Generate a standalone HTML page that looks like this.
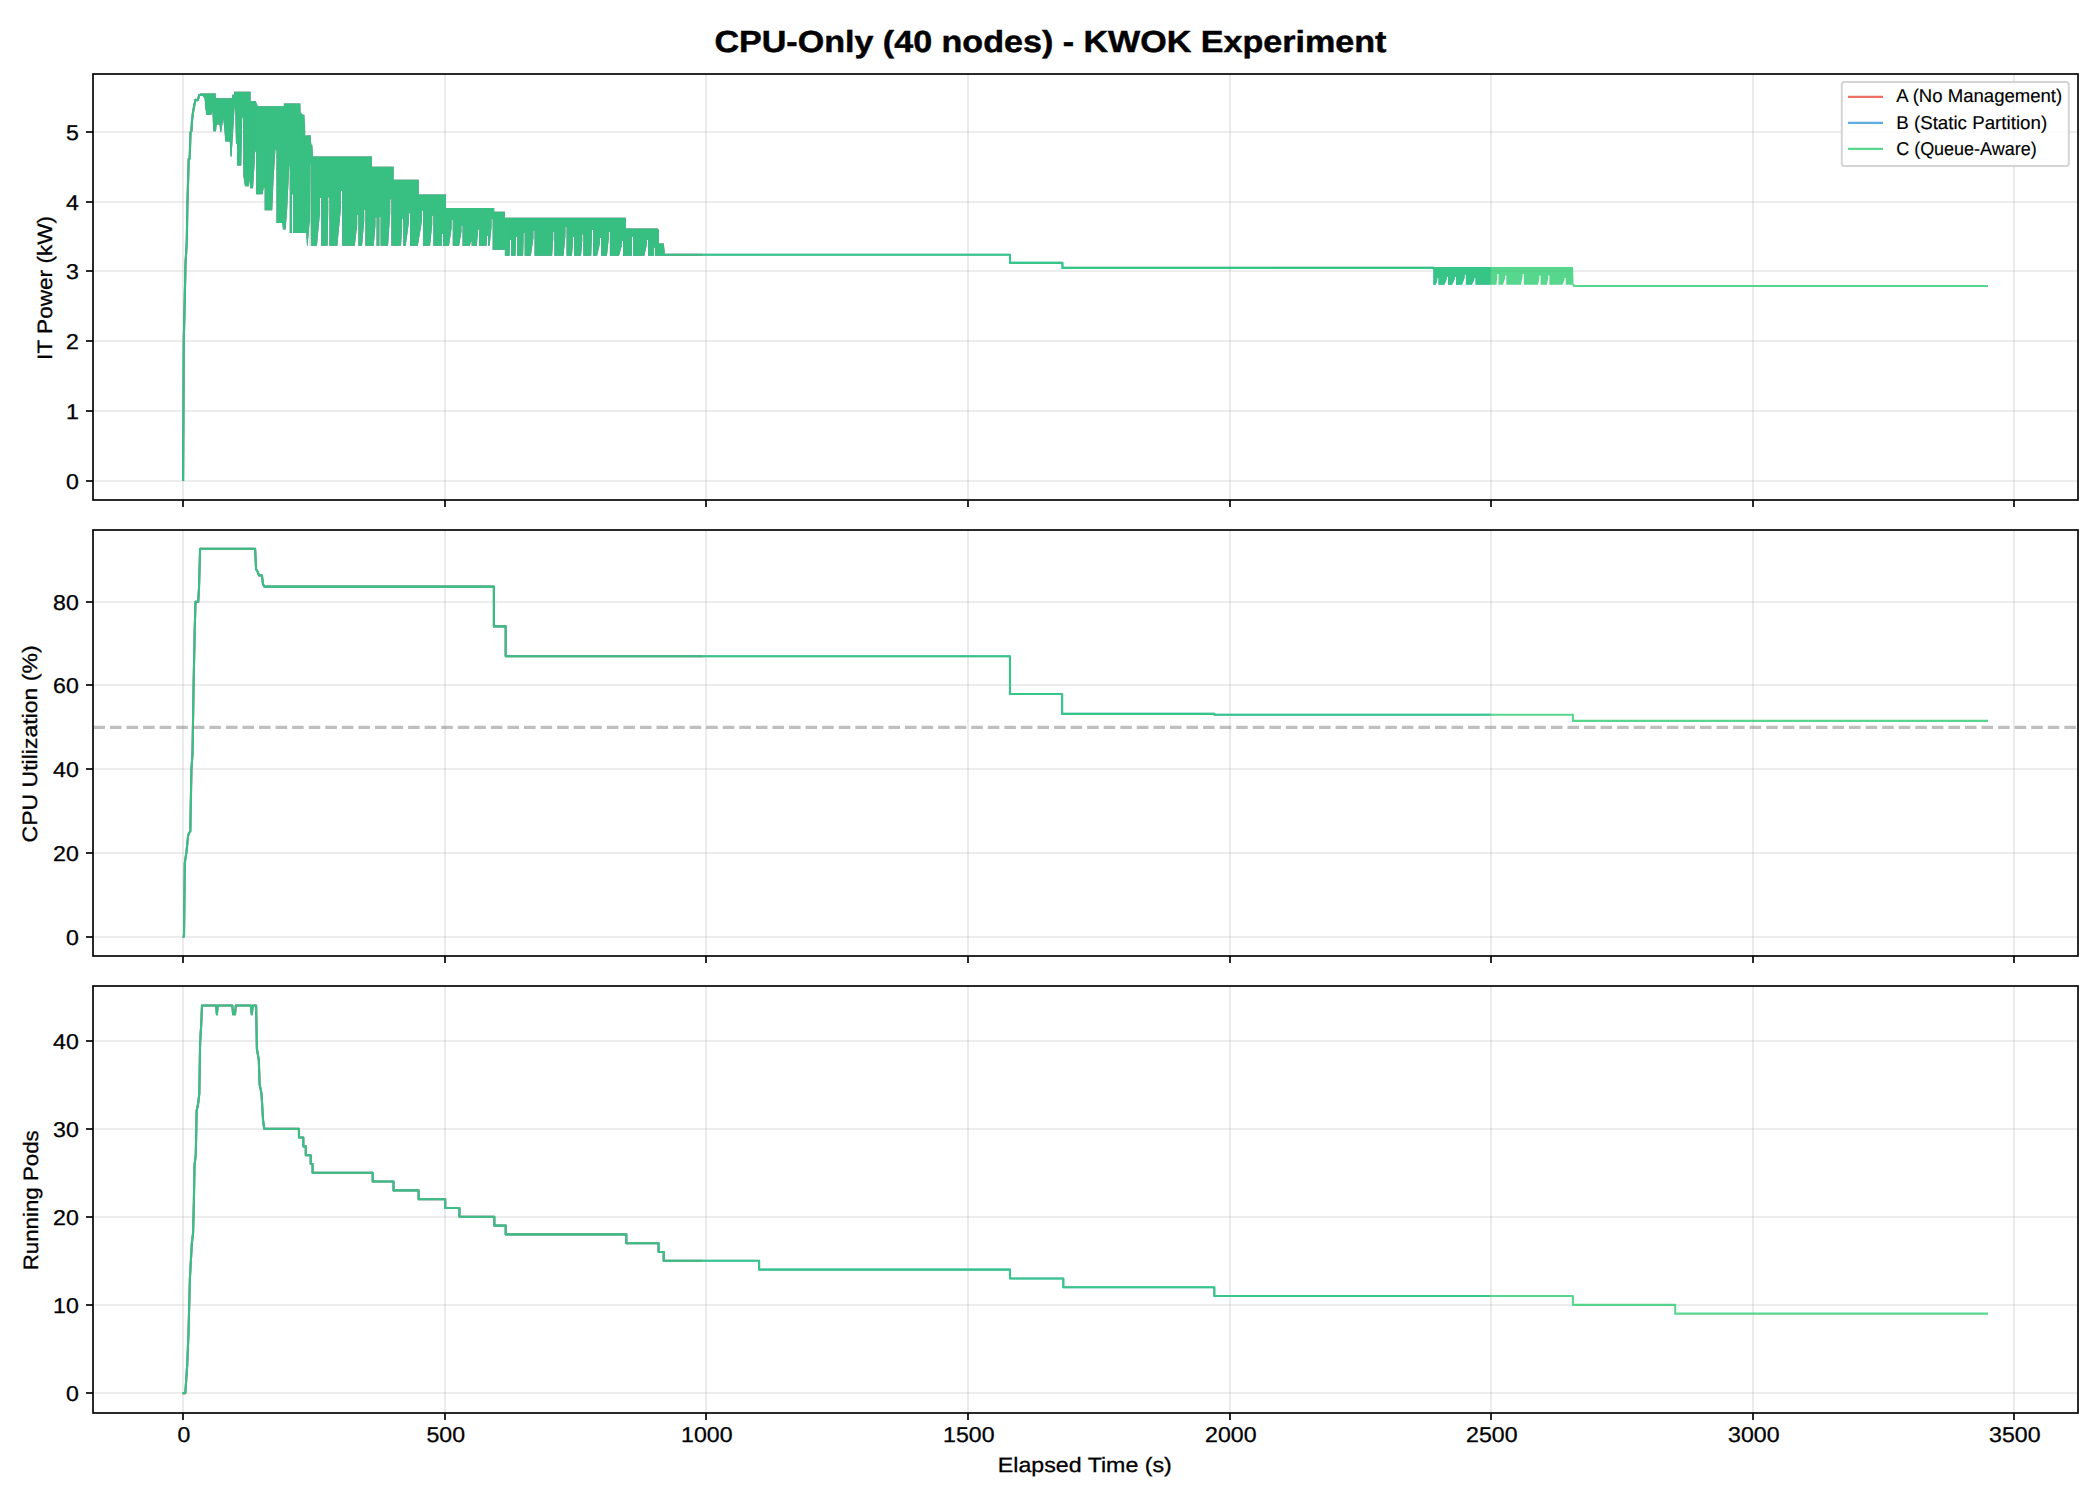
<!DOCTYPE html><html><head><meta charset="utf-8"><title>CPU-Only (40 nodes) - KWOK Experiment</title>
<style>html,body{margin:0;padding:0;background:#fff;width:2100px;height:1500px;overflow:hidden}svg{display:block;text-rendering:geometricPrecision}text{font-family:'Liberation Sans',sans-serif;fill:#000;stroke:#000;stroke-width:0.3px}</style></head><body>
<svg width="2100" height="1500" viewBox="0 0 2100 1500">
<rect width="2100" height="1500" fill="#fff"/>
<defs>
<clipPath id="ax0"><rect x="93" y="74" width="1985" height="426"/></clipPath>
<clipPath id="ax1"><rect x="93" y="530" width="1985" height="426"/></clipPath>
<clipPath id="ax2"><rect x="93" y="986" width="1985" height="427"/></clipPath>
<clipPath id="cA"><rect x="0" y="0" width="702.2" height="1500"/></clipPath>
<clipPath id="cB"><rect x="0" y="0" width="1490.6" height="1500"/></clipPath>
</defs>
<g stroke="#b0b0b0" stroke-opacity="0.3" stroke-width="1.67" fill="none">
<line x1="183" y1="74" x2="183" y2="500"/>
<line x1="445" y1="74" x2="445" y2="500"/>
<line x1="706" y1="74" x2="706" y2="500"/>
<line x1="968" y1="74" x2="968" y2="500"/>
<line x1="1230" y1="74" x2="1230" y2="500"/>
<line x1="1491" y1="74" x2="1491" y2="500"/>
<line x1="1753" y1="74" x2="1753" y2="500"/>
<line x1="2014" y1="74" x2="2014" y2="500"/>
<line x1="93" y1="481" x2="2078" y2="481"/>
<line x1="93" y1="411" x2="2078" y2="411"/>
<line x1="93" y1="341" x2="2078" y2="341"/>
<line x1="93" y1="271" x2="2078" y2="271"/>
<line x1="93" y1="202" x2="2078" y2="202"/>
<line x1="93" y1="132" x2="2078" y2="132"/>
</g>
<g clip-path="url(#ax0)">
<g clip-path="url(#cA)"><g opacity="0.8" fill="#e74c3c" stroke="#e74c3c"><polyline points="183.1,481 183.5,400 183.8,339.9 184.6,305.7 185.5,263.9 186.8,241.1 187.4,204.4 188.7,159 189.7,158.6 190.1,145 190.5,132.4 191.4,131.2 192,121 192.9,113.2 193.8,107.8 195.5,99.7 197.7,100.3 199.2,95.2 200.4,94.6 203.4,94.6 205,97.5" fill="none" stroke-width="2.08" stroke-linejoin="round" stroke-linecap="butt"/><polygon points="204,93.5 215.7,93.5 215.7,98.3 232.2,98.3 232.2,94.7 234.3,94.7 234.3,91.7 250.5,91.7 250.5,101 255.6,101 257.8,106.2 283.9,106.2 283.9,103.6 299.9,103.6 300.3,103.6 300.5,112.4 302.9,114.8 304.3,114.8 304.6,122 305,122 305.2,135.8 309.5,135.2 310.5,135.2 311.3,144.8 312.2,144.8 313,156.4 371.9,156.4 371.9,166.8 393.6,166.8 393.6,179.8 418.7,179.8 418.7,194.5 446,194.5 446,207.9 494.2,207.9 494.2,211.7 504.9,211.7 504.9,217.7 626,217.7 626,228.6 657.6,228.6 658.8,230 658.8,243.4 663.8,243.4 665,255.9 665,255.7 654.9,255.7 654.9,247.6 653.7,247.6 653.7,250.03 653.8,255.7 648,255.7 648,240 646.8,240 646.8,244.71 644.3,255.7 633,255.7 633,236.7 631.8,236.7 631.8,242.4 631.9,255.7 623,255.7 623,241 621.8,241 621.8,245.41 619,255.7 609.9,255.7 609.9,231.9 608.7,231.9 608.7,239.04 606.9,255.7 601.1,255.7 601.1,238 599.9,238 599.9,243.31 597.1,255.7 593,255.7 593,230 591.8,230 591.8,237.71 591.2,255.7 583.4,255.7 583.4,234.2 582.2,234.2 582.2,240.65 581,255.7 574.2,255.7 574.2,236.9 573,236.9 573,242.54 571.9,255.7 566.6,255.7 566.6,227 565.4,227 565.4,235.61 563.5,255.7 554.4,255.7 554.4,231.9 553.2,231.9 553.2,239.04 552.1,255.7 534.6,255.7 534.6,230.4 533.4,230.4 533.4,237.99 530.8,255.7 524.7,255.7 524.7,233 523.5,233 523.5,239.81 523.1,255.7 517.1,255.7 517.1,236.9 515.9,236.9 515.9,242.54 515.5,255.7 511,255.7 511,240 509.8,240 509.8,244.71 509.5,255.7 504.9,255.7 504.9,249.8 492.7,249.8 492.7,245.7 492.7,245.7 492.7,219 491.5,219 491.5,227.01 489.6,245.7 488.1,245.7 488.1,235.7 486.9,235.7 486.9,238.7 486.6,245.7 479,245.7 479,229.6 477.8,229.6 477.8,234.43 476.7,245.7 471.7,245.7 471.7,241.8 470.5,241.8 470.5,242.97 470,245.7 462.6,245.7 462.6,225.8 461.4,225.8 461.4,231.77 459.1,245.7 452.8,245.7 452.8,220 451.6,220 451.6,227.71 449,245.7 443,245.7 443,234 441.8,234 441.8,237.51 441.7,245.7 433.4,245.7 433.4,215.4 432.2,215.4 432.2,224.49 430,245.7 423,245.7 423,211 421.8,211 421.8,221.41 417.8,245.7 410,245.7 410,213.2 408.8,213.2 408.8,222.95 405.7,245.7 403.3,245.7 403.3,218.8 402.1,218.8 402.1,226.87 401,245.7 391.4,245.7 391.4,199.3 390.2,199.3 390.2,213.22 388,245.7 380.6,245.7 380.6,217 379.4,217 379.4,225.61 379.3,245.7 376.6,245.7 376.6,217.5 375.4,217.5 375.4,225.96 373.7,245.7 365.4,245.7 365.4,210 364.2,210 364.2,220.71 362,245.7 358.4,245.7 358.4,215 357.2,215 357.2,224.21 354.8,245.7 342.2,245.7 342.2,190.7 341,190.7 341,207.2 337.3,245.7 329.4,245.7 329.4,197.2 328.2,197.2 328.2,211.75 327.6,245.7 321.2,245.7 321.2,198 320,198 320,212.31 316.9,245.7 311.2,245.7 311.2,245.7 311,164.3 310.5,164.3 310.1,245.7 309.9,245.7 309.9,223 309.4,223 307.6,245.7 307,245.7 306.3,233.1 293,233.1 293,194.2 291.9,194.2 291.9,233.1 289.8,233.1 289.8,165.4 289.3,165.4 287,212 285.5,229.4 283,229.4 282.3,223 276.5,223 276.5,149.4 275.4,149.4 273.5,180 272.2,210.2 264.7,210.2 264.7,187.8 263.7,187.8 262.6,194.2 256.2,194.2 256.2,151.5 255.1,151.5 254.5,165 253,188.3 250.3,188.3 249.3,179.3 248.7,186.2 245,186.2 243.4,176 243,117.4 242.2,117.4 241.2,165.4 237,165.4 237,143.8 236,143.8 235.2,108 234.5,108 233.5,125 231.5,156.4 230.5,156.4 229.8,141.4 225.3,141.4 224.7,133 223.2,117.4 221.4,131.8 220.2,131.8 219.6,124.6 216.6,124.6 216,131.2 213.3,131.2 212.4,110.8 211.2,115 206.4,115 205.2,106.6 204.6,98" stroke="none"/><polyline points="664.3,254.8 1010,254.8 1010,262.9 1062.4,262.9 1062.4,267.9 1434,267.9" fill="none" stroke-width="2.08" stroke-linejoin="round"/><polygon points="1433.3,267 1573.1,267 1573.6,286.9 1573.6,284.7 1565.7,284.7 1565.7,277.9 1564.5,277.9 1564.5,279.94 1562.4,284.7 1549.4,284.7 1549.4,275.6 1548.2,275.6 1548.2,278.33 1546.8,284.7 1540.6,284.7 1540.6,275.6 1539.4,275.6 1539.4,278.33 1538,284.7 1523.8,284.7 1523.8,274 1522.6,274 1522.6,277.21 1520.9,284.7 1506.3,284.7 1506.3,275.6 1505.1,275.6 1505.1,278.33 1503,284.7 1498.5,284.7 1498.5,274 1497.3,274 1497.3,277.21 1496.4,284.7 1475.5,284.7 1475.5,277.9 1474.3,277.9 1474.3,279.94 1471.8,284.7 1465.9,284.7 1465.9,274.8 1464.7,274.8 1464.7,277.77 1462,284.7 1456,284.7 1456,277 1454.8,277 1454.8,279.31 1452,284.7 1448,284.7 1448,277 1446.8,277 1446.8,279.31 1444.3,284.7 1438.5,284.7 1438.5,277.9 1437.3,277.9 1437.3,279.94 1435.8,284.7 1433.3,284.7" stroke="none"/><polyline points="1573.1,284.2 1574,286 1988,286" fill="none" stroke-width="2.08" stroke-linejoin="round" stroke-linecap="butt"/></g></g>
<g clip-path="url(#cB)"><g opacity="0.8" fill="#3498db" stroke="#3498db"><polyline points="183.1,481 183.5,400 183.8,339.9 184.6,305.7 185.5,263.9 186.8,241.1 187.4,204.4 188.7,159 189.7,158.6 190.1,145 190.5,132.4 191.4,131.2 192,121 192.9,113.2 193.8,107.8 195.5,99.7 197.7,100.3 199.2,95.2 200.4,94.6 203.4,94.6 205,97.5" fill="none" stroke-width="2.08" stroke-linejoin="round" stroke-linecap="butt"/><polygon points="204,93.5 215.7,93.5 215.7,98.3 232.2,98.3 232.2,94.7 234.3,94.7 234.3,91.7 250.5,91.7 250.5,101 255.6,101 257.8,106.2 283.9,106.2 283.9,103.6 299.9,103.6 300.3,103.6 300.5,112.4 302.9,114.8 304.3,114.8 304.6,122 305,122 305.2,135.8 309.5,135.2 310.5,135.2 311.3,144.8 312.2,144.8 313,156.4 371.9,156.4 371.9,166.8 393.6,166.8 393.6,179.8 418.7,179.8 418.7,194.5 446,194.5 446,207.9 494.2,207.9 494.2,211.7 504.9,211.7 504.9,217.7 626,217.7 626,228.6 657.6,228.6 658.8,230 658.8,243.4 663.8,243.4 665,255.9 665,255.7 654.9,255.7 654.9,247.6 653.7,247.6 653.7,250.03 653.8,255.7 648,255.7 648,240 646.8,240 646.8,244.71 644.3,255.7 633,255.7 633,236.7 631.8,236.7 631.8,242.4 631.9,255.7 623,255.7 623,241 621.8,241 621.8,245.41 619,255.7 609.9,255.7 609.9,231.9 608.7,231.9 608.7,239.04 606.9,255.7 601.1,255.7 601.1,238 599.9,238 599.9,243.31 597.1,255.7 593,255.7 593,230 591.8,230 591.8,237.71 591.2,255.7 583.4,255.7 583.4,234.2 582.2,234.2 582.2,240.65 581,255.7 574.2,255.7 574.2,236.9 573,236.9 573,242.54 571.9,255.7 566.6,255.7 566.6,227 565.4,227 565.4,235.61 563.5,255.7 554.4,255.7 554.4,231.9 553.2,231.9 553.2,239.04 552.1,255.7 534.6,255.7 534.6,230.4 533.4,230.4 533.4,237.99 530.8,255.7 524.7,255.7 524.7,233 523.5,233 523.5,239.81 523.1,255.7 517.1,255.7 517.1,236.9 515.9,236.9 515.9,242.54 515.5,255.7 511,255.7 511,240 509.8,240 509.8,244.71 509.5,255.7 504.9,255.7 504.9,249.8 492.7,249.8 492.7,245.7 492.7,245.7 492.7,219 491.5,219 491.5,227.01 489.6,245.7 488.1,245.7 488.1,235.7 486.9,235.7 486.9,238.7 486.6,245.7 479,245.7 479,229.6 477.8,229.6 477.8,234.43 476.7,245.7 471.7,245.7 471.7,241.8 470.5,241.8 470.5,242.97 470,245.7 462.6,245.7 462.6,225.8 461.4,225.8 461.4,231.77 459.1,245.7 452.8,245.7 452.8,220 451.6,220 451.6,227.71 449,245.7 443,245.7 443,234 441.8,234 441.8,237.51 441.7,245.7 433.4,245.7 433.4,215.4 432.2,215.4 432.2,224.49 430,245.7 423,245.7 423,211 421.8,211 421.8,221.41 417.8,245.7 410,245.7 410,213.2 408.8,213.2 408.8,222.95 405.7,245.7 403.3,245.7 403.3,218.8 402.1,218.8 402.1,226.87 401,245.7 391.4,245.7 391.4,199.3 390.2,199.3 390.2,213.22 388,245.7 380.6,245.7 380.6,217 379.4,217 379.4,225.61 379.3,245.7 376.6,245.7 376.6,217.5 375.4,217.5 375.4,225.96 373.7,245.7 365.4,245.7 365.4,210 364.2,210 364.2,220.71 362,245.7 358.4,245.7 358.4,215 357.2,215 357.2,224.21 354.8,245.7 342.2,245.7 342.2,190.7 341,190.7 341,207.2 337.3,245.7 329.4,245.7 329.4,197.2 328.2,197.2 328.2,211.75 327.6,245.7 321.2,245.7 321.2,198 320,198 320,212.31 316.9,245.7 311.2,245.7 311.2,245.7 311,164.3 310.5,164.3 310.1,245.7 309.9,245.7 309.9,223 309.4,223 307.6,245.7 307,245.7 306.3,233.1 293,233.1 293,194.2 291.9,194.2 291.9,233.1 289.8,233.1 289.8,165.4 289.3,165.4 287,212 285.5,229.4 283,229.4 282.3,223 276.5,223 276.5,149.4 275.4,149.4 273.5,180 272.2,210.2 264.7,210.2 264.7,187.8 263.7,187.8 262.6,194.2 256.2,194.2 256.2,151.5 255.1,151.5 254.5,165 253,188.3 250.3,188.3 249.3,179.3 248.7,186.2 245,186.2 243.4,176 243,117.4 242.2,117.4 241.2,165.4 237,165.4 237,143.8 236,143.8 235.2,108 234.5,108 233.5,125 231.5,156.4 230.5,156.4 229.8,141.4 225.3,141.4 224.7,133 223.2,117.4 221.4,131.8 220.2,131.8 219.6,124.6 216.6,124.6 216,131.2 213.3,131.2 212.4,110.8 211.2,115 206.4,115 205.2,106.6 204.6,98" stroke="none"/><polyline points="664.3,254.8 1010,254.8 1010,262.9 1062.4,262.9 1062.4,267.9 1434,267.9" fill="none" stroke-width="2.08" stroke-linejoin="round"/><polygon points="1433.3,267 1573.1,267 1573.6,286.9 1573.6,284.7 1565.7,284.7 1565.7,277.9 1564.5,277.9 1564.5,279.94 1562.4,284.7 1549.4,284.7 1549.4,275.6 1548.2,275.6 1548.2,278.33 1546.8,284.7 1540.6,284.7 1540.6,275.6 1539.4,275.6 1539.4,278.33 1538,284.7 1523.8,284.7 1523.8,274 1522.6,274 1522.6,277.21 1520.9,284.7 1506.3,284.7 1506.3,275.6 1505.1,275.6 1505.1,278.33 1503,284.7 1498.5,284.7 1498.5,274 1497.3,274 1497.3,277.21 1496.4,284.7 1475.5,284.7 1475.5,277.9 1474.3,277.9 1474.3,279.94 1471.8,284.7 1465.9,284.7 1465.9,274.8 1464.7,274.8 1464.7,277.77 1462,284.7 1456,284.7 1456,277 1454.8,277 1454.8,279.31 1452,284.7 1448,284.7 1448,277 1446.8,277 1446.8,279.31 1444.3,284.7 1438.5,284.7 1438.5,277.9 1437.3,277.9 1437.3,279.94 1435.8,284.7 1433.3,284.7" stroke="none"/><polyline points="1573.1,284.2 1574,286 1988,286" fill="none" stroke-width="2.08" stroke-linejoin="round" stroke-linecap="butt"/></g></g>
<g opacity="0.8" fill="#2ecc71" stroke="#2ecc71"><polyline points="183.1,481 183.5,400 183.8,339.9 184.6,305.7 185.5,263.9 186.8,241.1 187.4,204.4 188.7,159 189.7,158.6 190.1,145 190.5,132.4 191.4,131.2 192,121 192.9,113.2 193.8,107.8 195.5,99.7 197.7,100.3 199.2,95.2 200.4,94.6 203.4,94.6 205,97.5" fill="none" stroke-width="2.08" stroke-linejoin="round" stroke-linecap="butt"/><polygon points="204,93.5 215.7,93.5 215.7,98.3 232.2,98.3 232.2,94.7 234.3,94.7 234.3,91.7 250.5,91.7 250.5,101 255.6,101 257.8,106.2 283.9,106.2 283.9,103.6 299.9,103.6 300.3,103.6 300.5,112.4 302.9,114.8 304.3,114.8 304.6,122 305,122 305.2,135.8 309.5,135.2 310.5,135.2 311.3,144.8 312.2,144.8 313,156.4 371.9,156.4 371.9,166.8 393.6,166.8 393.6,179.8 418.7,179.8 418.7,194.5 446,194.5 446,207.9 494.2,207.9 494.2,211.7 504.9,211.7 504.9,217.7 626,217.7 626,228.6 657.6,228.6 658.8,230 658.8,243.4 663.8,243.4 665,255.9 665,255.7 654.9,255.7 654.9,247.6 653.7,247.6 653.7,250.03 653.8,255.7 648,255.7 648,240 646.8,240 646.8,244.71 644.3,255.7 633,255.7 633,236.7 631.8,236.7 631.8,242.4 631.9,255.7 623,255.7 623,241 621.8,241 621.8,245.41 619,255.7 609.9,255.7 609.9,231.9 608.7,231.9 608.7,239.04 606.9,255.7 601.1,255.7 601.1,238 599.9,238 599.9,243.31 597.1,255.7 593,255.7 593,230 591.8,230 591.8,237.71 591.2,255.7 583.4,255.7 583.4,234.2 582.2,234.2 582.2,240.65 581,255.7 574.2,255.7 574.2,236.9 573,236.9 573,242.54 571.9,255.7 566.6,255.7 566.6,227 565.4,227 565.4,235.61 563.5,255.7 554.4,255.7 554.4,231.9 553.2,231.9 553.2,239.04 552.1,255.7 534.6,255.7 534.6,230.4 533.4,230.4 533.4,237.99 530.8,255.7 524.7,255.7 524.7,233 523.5,233 523.5,239.81 523.1,255.7 517.1,255.7 517.1,236.9 515.9,236.9 515.9,242.54 515.5,255.7 511,255.7 511,240 509.8,240 509.8,244.71 509.5,255.7 504.9,255.7 504.9,249.8 492.7,249.8 492.7,245.7 492.7,245.7 492.7,219 491.5,219 491.5,227.01 489.6,245.7 488.1,245.7 488.1,235.7 486.9,235.7 486.9,238.7 486.6,245.7 479,245.7 479,229.6 477.8,229.6 477.8,234.43 476.7,245.7 471.7,245.7 471.7,241.8 470.5,241.8 470.5,242.97 470,245.7 462.6,245.7 462.6,225.8 461.4,225.8 461.4,231.77 459.1,245.7 452.8,245.7 452.8,220 451.6,220 451.6,227.71 449,245.7 443,245.7 443,234 441.8,234 441.8,237.51 441.7,245.7 433.4,245.7 433.4,215.4 432.2,215.4 432.2,224.49 430,245.7 423,245.7 423,211 421.8,211 421.8,221.41 417.8,245.7 410,245.7 410,213.2 408.8,213.2 408.8,222.95 405.7,245.7 403.3,245.7 403.3,218.8 402.1,218.8 402.1,226.87 401,245.7 391.4,245.7 391.4,199.3 390.2,199.3 390.2,213.22 388,245.7 380.6,245.7 380.6,217 379.4,217 379.4,225.61 379.3,245.7 376.6,245.7 376.6,217.5 375.4,217.5 375.4,225.96 373.7,245.7 365.4,245.7 365.4,210 364.2,210 364.2,220.71 362,245.7 358.4,245.7 358.4,215 357.2,215 357.2,224.21 354.8,245.7 342.2,245.7 342.2,190.7 341,190.7 341,207.2 337.3,245.7 329.4,245.7 329.4,197.2 328.2,197.2 328.2,211.75 327.6,245.7 321.2,245.7 321.2,198 320,198 320,212.31 316.9,245.7 311.2,245.7 311.2,245.7 311,164.3 310.5,164.3 310.1,245.7 309.9,245.7 309.9,223 309.4,223 307.6,245.7 307,245.7 306.3,233.1 293,233.1 293,194.2 291.9,194.2 291.9,233.1 289.8,233.1 289.8,165.4 289.3,165.4 287,212 285.5,229.4 283,229.4 282.3,223 276.5,223 276.5,149.4 275.4,149.4 273.5,180 272.2,210.2 264.7,210.2 264.7,187.8 263.7,187.8 262.6,194.2 256.2,194.2 256.2,151.5 255.1,151.5 254.5,165 253,188.3 250.3,188.3 249.3,179.3 248.7,186.2 245,186.2 243.4,176 243,117.4 242.2,117.4 241.2,165.4 237,165.4 237,143.8 236,143.8 235.2,108 234.5,108 233.5,125 231.5,156.4 230.5,156.4 229.8,141.4 225.3,141.4 224.7,133 223.2,117.4 221.4,131.8 220.2,131.8 219.6,124.6 216.6,124.6 216,131.2 213.3,131.2 212.4,110.8 211.2,115 206.4,115 205.2,106.6 204.6,98" stroke="none"/><polyline points="664.3,254.8 1010,254.8 1010,262.9 1062.4,262.9 1062.4,267.9 1434,267.9" fill="none" stroke-width="2.08" stroke-linejoin="round"/><polygon points="1433.3,267 1573.1,267 1573.6,286.9 1573.6,284.7 1565.7,284.7 1565.7,277.9 1564.5,277.9 1564.5,279.94 1562.4,284.7 1549.4,284.7 1549.4,275.6 1548.2,275.6 1548.2,278.33 1546.8,284.7 1540.6,284.7 1540.6,275.6 1539.4,275.6 1539.4,278.33 1538,284.7 1523.8,284.7 1523.8,274 1522.6,274 1522.6,277.21 1520.9,284.7 1506.3,284.7 1506.3,275.6 1505.1,275.6 1505.1,278.33 1503,284.7 1498.5,284.7 1498.5,274 1497.3,274 1497.3,277.21 1496.4,284.7 1475.5,284.7 1475.5,277.9 1474.3,277.9 1474.3,279.94 1471.8,284.7 1465.9,284.7 1465.9,274.8 1464.7,274.8 1464.7,277.77 1462,284.7 1456,284.7 1456,277 1454.8,277 1454.8,279.31 1452,284.7 1448,284.7 1448,277 1446.8,277 1446.8,279.31 1444.3,284.7 1438.5,284.7 1438.5,277.9 1437.3,277.9 1437.3,279.94 1435.8,284.7 1433.3,284.7" stroke="none"/><polyline points="1573.1,284.2 1574,286 1988,286" fill="none" stroke-width="2.08" stroke-linejoin="round" stroke-linecap="butt"/></g>
</g>
<g stroke="#000" stroke-width="1.67">
<line x1="183" y1="500" x2="183" y2="507"/>
<line x1="445" y1="500" x2="445" y2="507"/>
<line x1="706" y1="500" x2="706" y2="507"/>
<line x1="968" y1="500" x2="968" y2="507"/>
<line x1="1230" y1="500" x2="1230" y2="507"/>
<line x1="1491" y1="500" x2="1491" y2="507"/>
<line x1="1753" y1="500" x2="1753" y2="507"/>
<line x1="2014" y1="500" x2="2014" y2="507"/>
<line x1="86" y1="481" x2="93" y2="481"/>
<line x1="86" y1="411" x2="93" y2="411"/>
<line x1="86" y1="341" x2="93" y2="341"/>
<line x1="86" y1="271" x2="93" y2="271"/>
<line x1="86" y1="202" x2="93" y2="202"/>
<line x1="86" y1="132" x2="93" y2="132"/>
</g>
<rect x="93" y="74" width="1985" height="426" fill="none" stroke="#000" stroke-width="1.67"/>
<text x="78.8" y="488.5" font-size="21.4" text-anchor="end" textLength="12.85" lengthAdjust="spacingAndGlyphs">0</text>
<text x="78.8" y="418.5" font-size="21.4" text-anchor="end" textLength="12.85" lengthAdjust="spacingAndGlyphs">1</text>
<text x="78.8" y="348.5" font-size="21.4" text-anchor="end" textLength="12.85" lengthAdjust="spacingAndGlyphs">2</text>
<text x="78.8" y="278.5" font-size="21.4" text-anchor="end" textLength="12.85" lengthAdjust="spacingAndGlyphs">3</text>
<text x="78.8" y="209.5" font-size="21.4" text-anchor="end" textLength="12.85" lengthAdjust="spacingAndGlyphs">4</text>
<text x="78.8" y="139.5" font-size="21.4" text-anchor="end" textLength="12.85" lengthAdjust="spacingAndGlyphs">5</text>
<g stroke="#b0b0b0" stroke-opacity="0.3" stroke-width="1.67" fill="none">
<line x1="183" y1="530" x2="183" y2="956"/>
<line x1="445" y1="530" x2="445" y2="956"/>
<line x1="706" y1="530" x2="706" y2="956"/>
<line x1="968" y1="530" x2="968" y2="956"/>
<line x1="1230" y1="530" x2="1230" y2="956"/>
<line x1="1491" y1="530" x2="1491" y2="956"/>
<line x1="1753" y1="530" x2="1753" y2="956"/>
<line x1="2014" y1="530" x2="2014" y2="956"/>
<line x1="93" y1="937" x2="2078" y2="937"/>
<line x1="93" y1="853" x2="2078" y2="853"/>
<line x1="93" y1="769" x2="2078" y2="769"/>
<line x1="93" y1="685" x2="2078" y2="685"/>
<line x1="93" y1="602" x2="2078" y2="602"/>
</g>
<g clip-path="url(#ax1)">
<g clip-path="url(#cA)"><g opacity="0.8" fill="#e74c3c" stroke="#e74c3c"><polyline points="182.7,936.6 184,936.6 184.8,862.9 186.5,851.9 188.1,835.5 189.2,832.8 190.3,831.4 191.4,770 192.5,753.6 193.6,685.3 194.7,630.6 195.5,601.9 198.2,601.9 199,588.3 200.1,548.7 255.1,548.7 256.1,569.2 257.8,572 258.9,575.4 261.9,575.4 263,584.2 264.3,586.6 493.9,586.6 493.9,626.4 505.7,626.4 505.7,656.3 1010,656.3 1010,694 1062.1,694 1062.1,713.9 1214.3,713.9 1214.3,714.8 1572.9,714.8 1572.9,720.9 1988,720.9" fill="none" stroke-width="2.08" stroke-linejoin="round"/></g></g>
<g clip-path="url(#cB)"><g opacity="0.8" fill="#3498db" stroke="#3498db"><polyline points="182.7,936.6 184,936.6 184.8,862.9 186.5,851.9 188.1,835.5 189.2,832.8 190.3,831.4 191.4,770 192.5,753.6 193.6,685.3 194.7,630.6 195.5,601.9 198.2,601.9 199,588.3 200.1,548.7 255.1,548.7 256.1,569.2 257.8,572 258.9,575.4 261.9,575.4 263,584.2 264.3,586.6 493.9,586.6 493.9,626.4 505.7,626.4 505.7,656.3 1010,656.3 1010,694 1062.1,694 1062.1,713.9 1214.3,713.9 1214.3,714.8 1572.9,714.8 1572.9,720.9 1988,720.9" fill="none" stroke-width="2.08" stroke-linejoin="round"/></g></g>
<g opacity="0.8" fill="#2ecc71" stroke="#2ecc71"><polyline points="182.7,936.6 184,936.6 184.8,862.9 186.5,851.9 188.1,835.5 189.2,832.8 190.3,831.4 191.4,770 192.5,753.6 193.6,685.3 194.7,630.6 195.5,601.9 198.2,601.9 199,588.3 200.1,548.7 255.1,548.7 256.1,569.2 257.8,572 258.9,575.4 261.9,575.4 263,584.2 264.3,586.6 493.9,586.6 493.9,626.4 505.7,626.4 505.7,656.3 1010,656.3 1010,694 1062.1,694 1062.1,713.9 1214.3,713.9 1214.3,714.8 1572.9,714.8 1572.9,720.9 1988,720.9" fill="none" stroke-width="2.08" stroke-linejoin="round"/></g>
<line x1="93" y1="727.4" x2="2078" y2="727.4" stroke="#808080" stroke-opacity="0.5" stroke-width="3.1" stroke-dasharray="11.5625 5" stroke-dashoffset="-0.4"/>
</g>
<g stroke="#000" stroke-width="1.67">
<line x1="183" y1="956" x2="183" y2="963"/>
<line x1="445" y1="956" x2="445" y2="963"/>
<line x1="706" y1="956" x2="706" y2="963"/>
<line x1="968" y1="956" x2="968" y2="963"/>
<line x1="1230" y1="956" x2="1230" y2="963"/>
<line x1="1491" y1="956" x2="1491" y2="963"/>
<line x1="1753" y1="956" x2="1753" y2="963"/>
<line x1="2014" y1="956" x2="2014" y2="963"/>
<line x1="86" y1="937" x2="93" y2="937"/>
<line x1="86" y1="853" x2="93" y2="853"/>
<line x1="86" y1="769" x2="93" y2="769"/>
<line x1="86" y1="685" x2="93" y2="685"/>
<line x1="86" y1="602" x2="93" y2="602"/>
</g>
<rect x="93" y="530" width="1985" height="426" fill="none" stroke="#000" stroke-width="1.67"/>
<text x="78.8" y="944.5" font-size="21.4" text-anchor="end" textLength="12.85" lengthAdjust="spacingAndGlyphs">0</text>
<text x="78.8" y="860.5" font-size="21.4" text-anchor="end" textLength="25.7" lengthAdjust="spacingAndGlyphs">20</text>
<text x="78.8" y="776.5" font-size="21.4" text-anchor="end" textLength="25.7" lengthAdjust="spacingAndGlyphs">40</text>
<text x="78.8" y="692.5" font-size="21.4" text-anchor="end" textLength="25.7" lengthAdjust="spacingAndGlyphs">60</text>
<text x="78.8" y="609.5" font-size="21.4" text-anchor="end" textLength="25.7" lengthAdjust="spacingAndGlyphs">80</text>
<g stroke="#b0b0b0" stroke-opacity="0.3" stroke-width="1.67" fill="none">
<line x1="183" y1="986" x2="183" y2="1413"/>
<line x1="445" y1="986" x2="445" y2="1413"/>
<line x1="706" y1="986" x2="706" y2="1413"/>
<line x1="968" y1="986" x2="968" y2="1413"/>
<line x1="1230" y1="986" x2="1230" y2="1413"/>
<line x1="1491" y1="986" x2="1491" y2="1413"/>
<line x1="1753" y1="986" x2="1753" y2="1413"/>
<line x1="2014" y1="986" x2="2014" y2="1413"/>
<line x1="93" y1="1393" x2="2078" y2="1393"/>
<line x1="93" y1="1305" x2="2078" y2="1305"/>
<line x1="93" y1="1217" x2="2078" y2="1217"/>
<line x1="93" y1="1129" x2="2078" y2="1129"/>
<line x1="93" y1="1041" x2="2078" y2="1041"/>
</g>
<g clip-path="url(#ax2)">
<g clip-path="url(#cA)"><g opacity="0.8" fill="#e74c3c" stroke="#e74c3c"><polyline points="182.6,1393.1 185.3,1393.1 187.2,1365.3 188.5,1332.8 189.9,1278.8 191.8,1243.6 193.1,1232.8 193.9,1200.4 194.5,1165.3 195.8,1154.5 196.6,1111.2 198.2,1103.1 199.3,1093.6 200.1,1043.6 201.2,1024.7 202,1005.48 216.1,1005.48 216.9,1014.29 217.7,1005.48 232.3,1005.48 233.1,1014.29 235,1014.29 235.8,1005.48 250.7,1005.48 251.8,1014.29 252.8,1005.48 256.1,1005.48 256.9,1049 258.8,1059.9 259.6,1084.2 261.5,1093.6 263.1,1120.7 264.2,1128.75 298.96,1128.75 298.96,1137.56 303.3,1137.56 303.3,1146.36 305.8,1146.36 305.8,1155.17 310.7,1155.17 310.7,1163.97 312.6,1163.97 312.6,1172.78 372.7,1172.78 372.7,1181.58 393.5,1181.58 393.5,1190.39 418.6,1190.39 418.6,1199.19 445.2,1199.19 445.2,1208 459.4,1208 459.4,1216.8 494.3,1216.8 494.3,1225.61 505.7,1225.61 505.7,1234.41 626.3,1234.41 626.3,1243.22 658.6,1243.22 658.6,1252.02 663.7,1252.02 663.7,1260.83 759.1,1260.83 759.1,1269.63 1010,1269.63 1010,1278.44 1063.3,1278.44 1063.3,1287.24 1214.3,1287.24 1214.3,1296.05 1572.9,1296.05 1572.9,1304.85 1675.2,1304.85 1675.2,1313.66 1988,1313.66" fill="none" stroke-width="2.08" stroke-linejoin="round"/></g></g>
<g clip-path="url(#cB)"><g opacity="0.8" fill="#3498db" stroke="#3498db"><polyline points="182.6,1393.1 185.3,1393.1 187.2,1365.3 188.5,1332.8 189.9,1278.8 191.8,1243.6 193.1,1232.8 193.9,1200.4 194.5,1165.3 195.8,1154.5 196.6,1111.2 198.2,1103.1 199.3,1093.6 200.1,1043.6 201.2,1024.7 202,1005.48 216.1,1005.48 216.9,1014.29 217.7,1005.48 232.3,1005.48 233.1,1014.29 235,1014.29 235.8,1005.48 250.7,1005.48 251.8,1014.29 252.8,1005.48 256.1,1005.48 256.9,1049 258.8,1059.9 259.6,1084.2 261.5,1093.6 263.1,1120.7 264.2,1128.75 298.96,1128.75 298.96,1137.56 303.3,1137.56 303.3,1146.36 305.8,1146.36 305.8,1155.17 310.7,1155.17 310.7,1163.97 312.6,1163.97 312.6,1172.78 372.7,1172.78 372.7,1181.58 393.5,1181.58 393.5,1190.39 418.6,1190.39 418.6,1199.19 445.2,1199.19 445.2,1208 459.4,1208 459.4,1216.8 494.3,1216.8 494.3,1225.61 505.7,1225.61 505.7,1234.41 626.3,1234.41 626.3,1243.22 658.6,1243.22 658.6,1252.02 663.7,1252.02 663.7,1260.83 759.1,1260.83 759.1,1269.63 1010,1269.63 1010,1278.44 1063.3,1278.44 1063.3,1287.24 1214.3,1287.24 1214.3,1296.05 1572.9,1296.05 1572.9,1304.85 1675.2,1304.85 1675.2,1313.66 1988,1313.66" fill="none" stroke-width="2.08" stroke-linejoin="round"/></g></g>
<g opacity="0.8" fill="#2ecc71" stroke="#2ecc71"><polyline points="182.6,1393.1 185.3,1393.1 187.2,1365.3 188.5,1332.8 189.9,1278.8 191.8,1243.6 193.1,1232.8 193.9,1200.4 194.5,1165.3 195.8,1154.5 196.6,1111.2 198.2,1103.1 199.3,1093.6 200.1,1043.6 201.2,1024.7 202,1005.48 216.1,1005.48 216.9,1014.29 217.7,1005.48 232.3,1005.48 233.1,1014.29 235,1014.29 235.8,1005.48 250.7,1005.48 251.8,1014.29 252.8,1005.48 256.1,1005.48 256.9,1049 258.8,1059.9 259.6,1084.2 261.5,1093.6 263.1,1120.7 264.2,1128.75 298.96,1128.75 298.96,1137.56 303.3,1137.56 303.3,1146.36 305.8,1146.36 305.8,1155.17 310.7,1155.17 310.7,1163.97 312.6,1163.97 312.6,1172.78 372.7,1172.78 372.7,1181.58 393.5,1181.58 393.5,1190.39 418.6,1190.39 418.6,1199.19 445.2,1199.19 445.2,1208 459.4,1208 459.4,1216.8 494.3,1216.8 494.3,1225.61 505.7,1225.61 505.7,1234.41 626.3,1234.41 626.3,1243.22 658.6,1243.22 658.6,1252.02 663.7,1252.02 663.7,1260.83 759.1,1260.83 759.1,1269.63 1010,1269.63 1010,1278.44 1063.3,1278.44 1063.3,1287.24 1214.3,1287.24 1214.3,1296.05 1572.9,1296.05 1572.9,1304.85 1675.2,1304.85 1675.2,1313.66 1988,1313.66" fill="none" stroke-width="2.08" stroke-linejoin="round"/></g>
</g>
<g stroke="#000" stroke-width="1.67">
<line x1="183" y1="1413" x2="183" y2="1420"/>
<line x1="445" y1="1413" x2="445" y2="1420"/>
<line x1="706" y1="1413" x2="706" y2="1420"/>
<line x1="968" y1="1413" x2="968" y2="1420"/>
<line x1="1230" y1="1413" x2="1230" y2="1420"/>
<line x1="1491" y1="1413" x2="1491" y2="1420"/>
<line x1="1753" y1="1413" x2="1753" y2="1420"/>
<line x1="2014" y1="1413" x2="2014" y2="1420"/>
<line x1="86" y1="1393" x2="93" y2="1393"/>
<line x1="86" y1="1305" x2="93" y2="1305"/>
<line x1="86" y1="1217" x2="93" y2="1217"/>
<line x1="86" y1="1129" x2="93" y2="1129"/>
<line x1="86" y1="1041" x2="93" y2="1041"/>
</g>
<rect x="93" y="986" width="1985" height="427" fill="none" stroke="#000" stroke-width="1.67"/>
<text x="78.8" y="1400.5" font-size="21.4" text-anchor="end" textLength="12.85" lengthAdjust="spacingAndGlyphs">0</text>
<text x="78.8" y="1312.5" font-size="21.4" text-anchor="end" textLength="25.7" lengthAdjust="spacingAndGlyphs">10</text>
<text x="78.8" y="1224.5" font-size="21.4" text-anchor="end" textLength="25.7" lengthAdjust="spacingAndGlyphs">20</text>
<text x="78.8" y="1136.5" font-size="21.4" text-anchor="end" textLength="25.7" lengthAdjust="spacingAndGlyphs">30</text>
<text x="78.8" y="1048.5" font-size="21.4" text-anchor="end" textLength="25.7" lengthAdjust="spacingAndGlyphs">40</text>
<text x="183.8" y="1442.2" font-size="21.4" text-anchor="middle" textLength="12.85" lengthAdjust="spacingAndGlyphs">0</text>
<text x="445.8" y="1442.2" font-size="21.4" text-anchor="middle" textLength="38.55" lengthAdjust="spacingAndGlyphs">500</text>
<text x="706.8" y="1442.2" font-size="21.4" text-anchor="middle" textLength="51.4" lengthAdjust="spacingAndGlyphs">1000</text>
<text x="968.8" y="1442.2" font-size="21.4" text-anchor="middle" textLength="51.4" lengthAdjust="spacingAndGlyphs">1500</text>
<text x="1230.8" y="1442.2" font-size="21.4" text-anchor="middle" textLength="51.4" lengthAdjust="spacingAndGlyphs">2000</text>
<text x="1491.8" y="1442.2" font-size="21.4" text-anchor="middle" textLength="51.4" lengthAdjust="spacingAndGlyphs">2500</text>
<text x="1753.8" y="1442.2" font-size="21.4" text-anchor="middle" textLength="51.4" lengthAdjust="spacingAndGlyphs">3000</text>
<text x="2014.8" y="1442.2" font-size="21.4" text-anchor="middle" textLength="51.4" lengthAdjust="spacingAndGlyphs">3500</text>
<text x="1084.8" y="1471.9" font-size="20.83" text-anchor="middle" textLength="174" lengthAdjust="spacingAndGlyphs">Elapsed Time (s)</text>
<text transform="translate(51.6,287.9) rotate(-90)" x="0" y="0" font-size="20.83" text-anchor="middle" textLength="144" lengthAdjust="spacingAndGlyphs">IT Power (kW)</text>
<text transform="translate(37.0,743.9) rotate(-90)" x="0" y="0" font-size="20.83" text-anchor="middle" textLength="197" lengthAdjust="spacingAndGlyphs">CPU Utilization (%)</text>
<text transform="translate(37.6,1200.3) rotate(-90)" x="0" y="0" font-size="20.83" text-anchor="middle" textLength="140" lengthAdjust="spacingAndGlyphs">Running Pods</text>
<text x="1050.4" y="52" font-size="30.5" font-weight="bold" style="stroke-width:0.45px" text-anchor="middle" textLength="672" lengthAdjust="spacingAndGlyphs">CPU-Only (40 nodes) - KWOK Experiment</text>
<rect x="1841.8" y="81.9" width="227.0" height="84.0" rx="2.5" ry="2.5" fill="#fff" fill-opacity="0.8" stroke="#cccccc" stroke-opacity="0.85" stroke-width="2.0"/>
<line x1="1848" y1="96.9" x2="1883" y2="96.9" stroke="#e74c3c" stroke-opacity="0.8" stroke-width="2.08"/>
<text x="1896.2" y="102" font-size="18.6" style="stroke-width:0.15px" textLength="166" lengthAdjust="spacingAndGlyphs">A (No Management)</text>
<line x1="1848" y1="122.9" x2="1883" y2="122.9" stroke="#3498db" stroke-opacity="0.8" stroke-width="2.08"/>
<text x="1896.2" y="128.8" font-size="18.6" style="stroke-width:0.15px" textLength="151" lengthAdjust="spacingAndGlyphs">B (Static Partition)</text>
<line x1="1848" y1="148.9" x2="1883" y2="148.9" stroke="#2ecc71" stroke-opacity="0.8" stroke-width="2.08"/>
<text x="1896.2" y="154.8" font-size="18.6" style="stroke-width:0.15px" textLength="140.5" lengthAdjust="spacingAndGlyphs">C (Queue-Aware)</text>
</svg></body></html>
